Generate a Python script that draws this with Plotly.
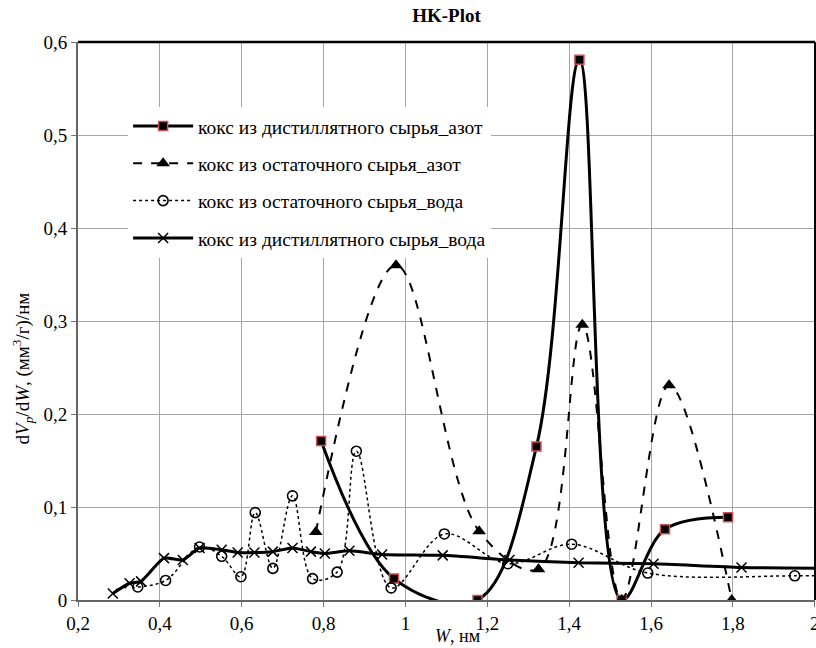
import plotly.graph_objects as go

# Series: кокс из дистиллятного сырья_азот
x_dist_n2 = [0.794, 0.972, 1.176, 1.320, 1.425, 1.528, 1.634, 1.788]
y_dist_n2 = [0.171, 0.023, 0.000, 0.165, 0.581, 0.000, 0.076, 0.089]

# Series: кокс из остаточного сырья_азот
x_res_n2 = [0.781, 0.977, 1.180, 1.325, 1.432, 1.528, 1.644, 1.797]
y_res_n2 = [0.073, 0.360, 0.074, 0.033, 0.296, 0.000, 0.231, 0.000]

# Series: кокс из остаточного сырья_вода
x_res_w = [0.346, 0.414, 0.497, 0.551, 0.598, 0.633, 0.676, 0.724, 0.773, 0.833,
           0.880, 0.965, 1.095, 1.250, 1.406, 1.592, 1.951, 2.120]
y_res_w = [0.014, 0.021, 0.057, 0.047, 0.025, 0.094, 0.034, 0.112, 0.023, 0.030,
           0.160, 0.013, 0.071, 0.039, 0.060, 0.029, 0.026, 0.027]

# Series: кокс из дистиллятного сырья_вода
x_dist_w = [0.285, 0.326, 0.354, 0.410, 0.456, 0.497, 0.551, 0.590, 0.631, 0.676,
            0.724, 0.769, 0.803, 0.863, 0.943, 1.091, 1.254, 1.423, 1.606, 1.821, 2.100]
y_dist_w = [0.007, 0.018, 0.020, 0.045, 0.043, 0.056, 0.054, 0.051, 0.051, 0.052,
            0.056, 0.052, 0.050, 0.053, 0.049, 0.048, 0.043, 0.040, 0.039, 0.035, 0.034]

names = [
    "кокс из дистиллятного сырья_азот",
    "кокс из остаточного сырья_азот",
    "кокс из остаточного сырья_вода",
    "кокс из дистиллятного сырья_вода",
]

x_ticks = [0.2, 0.4, 0.6, 0.8, 1.0, 1.2, 1.4, 1.6, 1.8, 2.0]
y_ticks = [0, 0.1, 0.2, 0.3, 0.4, 0.5, 0.6]

FONT = "Liberation Serif"

fig = go.Figure()

fig.add_trace(go.Scatter(
    x=x_dist_n2, y=y_dist_n2, name=names[0], legendgroup="a",
    mode="lines+markers",
    line=dict(color="black", width=3, shape="spline", smoothing=1),
    marker=dict(symbol="square", size=9, color="black",
                line=dict(color="#d0504d", width=1.5)),
))
fig.add_trace(go.Scatter(
    x=x_res_n2, y=y_res_n2, name=names[1], legendgroup="b",
    mode="lines+markers",
    line=dict(color="black", width=2, dash="dash", shape="spline", smoothing=1),
    marker=dict(symbol="triangle-up", size=12, color="black"),
))
fig.add_trace(go.Scatter(
    x=x_res_w, y=y_res_w, name=names[2], legendgroup="c",
    mode="lines+markers",
    line=dict(color="black", width=1.5, dash="dot", shape="spline", smoothing=1),
    marker=dict(symbol="circle-open", size=10, color="black", line=dict(width=1.6)),
))
fig.add_trace(go.Scatter(
    x=x_dist_w, y=y_dist_w, name=names[3], legendgroup="d",
    mode="lines+markers",
    line=dict(color="black", width=3, shape="spline", smoothing=0.6),
    marker=dict(symbol="x-thin", size=10, color="black", line=dict(width=1.5, color="black")),
))

fig.update_layout(
    width=816, height=648,
    margin=dict(l=78, r=1, t=42, b=48, autoexpand=False),
    paper_bgcolor="white", plot_bgcolor="white",
    separators=", ",
    font=dict(family=FONT, size=19, color="black"),
    title=dict(text="<b>HK-Plot</b>", x=0.5, xref="paper", y=0.976, yanchor="middle",
               font=dict(family=FONT, size=19, color="black")),
    showlegend=True,
    legend=dict(x=0.068, y=0.884, xanchor="left", yanchor="top",
                bgcolor="white", borderwidth=0, tracegroupgap=9, itemwidth=60,
                font=dict(family=FONT, size=19.5, color="black")),
    xaxis=dict(
        range=[0.2, 2.0005], tickvals=x_ticks, ticks="outside", ticklen=5,
        tickcolor="#777", showgrid=True, gridcolor="#a6a6a6", gridwidth=1,
        showline=True, linecolor="#666", linewidth=2, zeroline=False,
        automargin=False, ticklabeloverflow="allow",
        tickfont=dict(family=FONT, size=19),
    ),
    yaxis=dict(
        range=[0, 0.6], tickvals=y_ticks, ticks="outside", ticklen=5,
        tickcolor="#777", showgrid=True, gridcolor="#a6a6a6", gridwidth=1,
        showline=True, linecolor="#666", linewidth=2, zeroline=False,
        automargin=False, tickfont=dict(family=FONT, size=19),
    ),
    annotations=[
        dict(text="<i>W</i>, нм", xref="paper", yref="paper",
             x=0.515, y=-0.0845, xanchor="center", yanchor="bottom", borderpad=0,
             showarrow=False, font=dict(family=FONT, size=18)),
        dict(text="d<i>V</i><sub><i>p</i></sub>/d<i>W</i>, (мм<sup>3</sup>/г)/нм",
             xref="paper", yref="paper", x=-0.076, y=0.415,
             xanchor="center", yanchor="middle", textangle=-90,
             showarrow=False, font=dict(family=FONT, size=19)),
    ],
    shapes=[
        dict(type="line", xref="paper", yref="paper", x0=0, x1=1, y0=1, y1=1,
             line=dict(color="black", width=2.5)),
        dict(type="line", xref="paper", yref="paper", x0=1, x1=1, y0=0, y1=1,
             line=dict(color="black", width=2)),
    ],
)

fig.write_html("out.html", config={"displayModeBar": False},
               post_script="document.body.style.margin='0';")
